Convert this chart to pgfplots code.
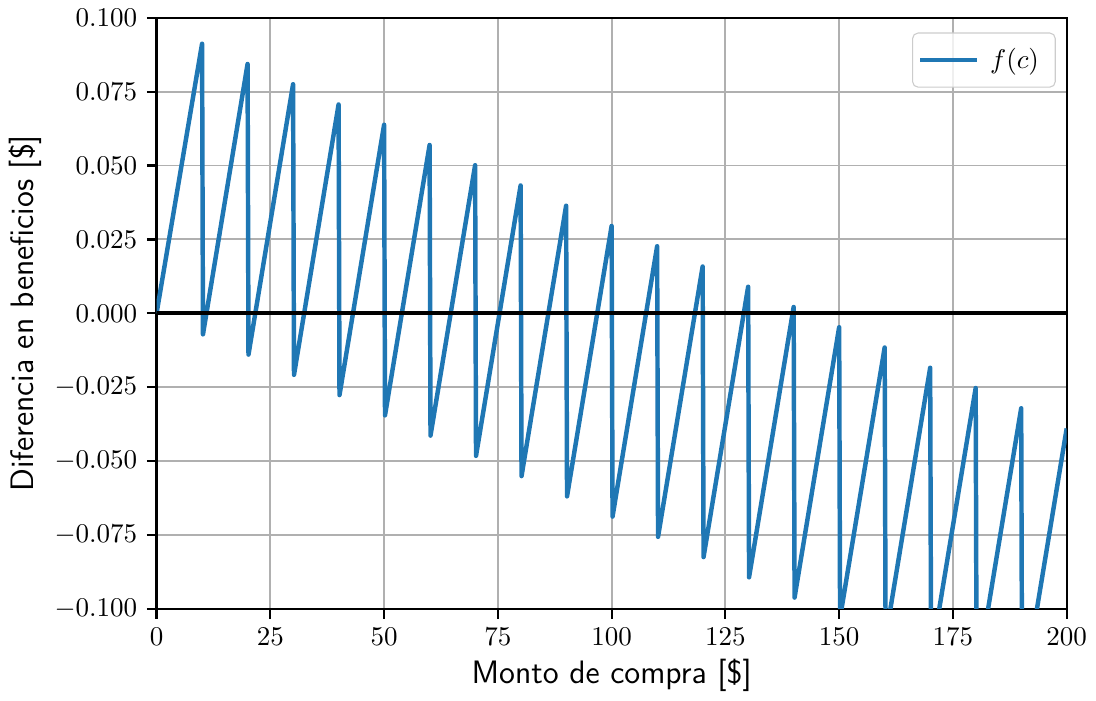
\documentclass[border=0pt]{standalone}
\usepackage{pgfplots}
\pgfplotsset{compat=1.18}

\definecolor{mplblue}{HTML}{1F77B4}
\definecolor{gridgray}{HTML}{B0B0B0}

\begin{document}
\begin{tikzpicture}
\begin{axis}[
    width=336.5pt, height=218.6pt, scale only axis,
    xmin=0, xmax=200, ymin=-0.1, ymax=0.1,
    xtick={0,25,50,75,100,125,150,175,200},
    ytick={-0.1,-0.075,-0.05,-0.025,0,0.025,0.05,0.075,0.1},
    yticklabel style={/pgf/number format/.cd, fixed, fixed zerofill, precision=3},
    ticklabel style={font=\fontsize{10.2}{12}\selectfont},
    grid=major,
    grid style={gridgray, line width=0.7pt},
    axis line style={line width=0.8pt},
    tick style={black, line width=0.8pt},
    tick align=outside, tick pos=left,
    major tick length=3.6pt,
    xlabel={\fontsize{12}{14}\selectfont\sffamily Monto de compra [\$]},
    ylabel={\fontsize{12}{14}\selectfont\sffamily Diferencia en beneficios [\$]},
    xlabel style={yshift=2pt},
    ylabel style={yshift=-2pt},
    legend style={at={(0.988,0.975)}, anchor=north east, draw=gray!40,
        rounded corners=2pt, fill=white, fill opacity=0.8, text opacity=1,
        font=\fontsize{10.2}{12}\selectfont, inner xsep=2pt, inner ysep=3.5pt,
        nodes={inner xsep=4pt}},
    legend cell align=left,
    legend image code/.code={\draw[#1] (0pt,0pt) -- (21pt,0pt);},
]
\addplot[mplblue, line width=1.65pt, line join=round] coordinates {
    (0,0)
    (10,0.0912) (10.2,-0.0071)
    (20,0.08435) (20.2,-0.01395)
    (30,0.0775) (30.2,-0.0208)
    (40,0.07065) (40.2,-0.02765)
    (50,0.0638) (50.2,-0.0345)
    (60,0.05695) (60.2,-0.04135)
    (70,0.0501) (70.2,-0.0482)
    (80,0.04325) (80.2,-0.05505)
    (90,0.0364) (90.2,-0.0619)
    (100,0.02955) (100.2,-0.06875)
    (110,0.0227) (110.2,-0.0756)
    (120,0.01585) (120.2,-0.08245)
    (130,0.009) (130.2,-0.0893)
    (140,0.00215) (140.2,-0.09615)
    (150,-0.0047) (150.2,-0.103)
    (160,-0.01155) (160.2,-0.10985)
    (170,-0.0184) (170.2,-0.1167)
    (180,-0.02525) (180.2,-0.12355)
    (190,-0.0321) (190.2,-0.1304)
    (200,-0.03895)
};
\addlegendentry{$f(c)$}
\addplot[black, line width=1.5pt, forget plot] coordinates {(0,0) (200,0)};
\end{axis}
\end{tikzpicture}
\end{document}
